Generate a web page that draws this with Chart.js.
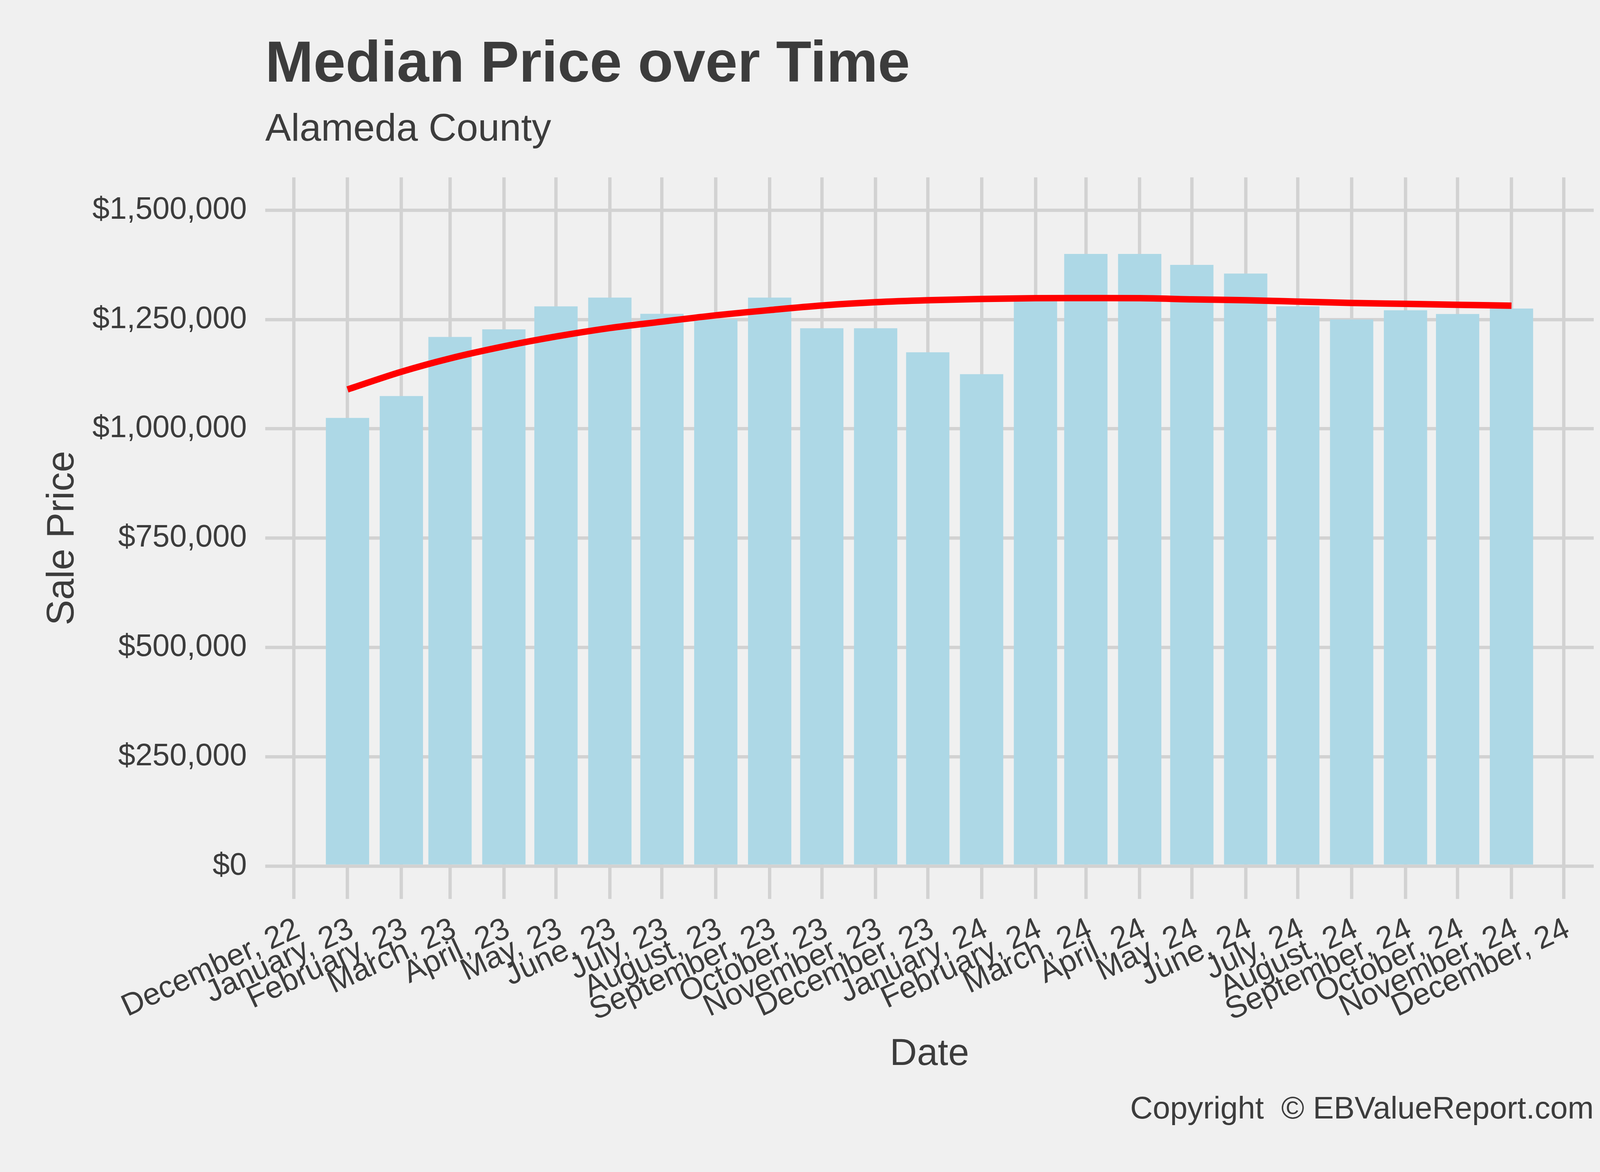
<!DOCTYPE html>
<html>
<head>
<meta charset="utf-8">
<script src="https://cdn.jsdelivr.net/npm/chart.js@4/dist/chart.umd.min.js"></script>
<style>
  html, body { margin: 0; padding: 0; background: #F0F0F0; }
  #wrap { width: 4200px; height: 3000px; }
</style>
</head>
<body>
<div id="wrap"><canvas id="c" width="4200" height="3000"></canvas></div>
<script>
// ---- Data ----
const tickLabels = [
  'December, 22', 'January, 23', 'February, 23', 'March, 23', 'April, 23', 'May, 23',
  'June, 23', 'July, 23', 'August, 23', 'September, 23', 'October, 23', 'November, 23',
  'December, 23', 'January, 24', 'February, 24', 'March, 24', 'April, 24', 'May, 24',
  'June, 24', 'July, 24', 'August, 24', 'September, 24', 'October, 24', 'November, 24',
  'December, 24'
];
const tickDates = [
  '2022-12-01', '2023-01-01', '2023-02-01', '2023-03-01', '2023-04-01', '2023-05-01',
  '2023-06-01', '2023-07-01', '2023-08-01', '2023-09-01', '2023-10-01', '2023-11-01',
  '2023-12-01', '2024-01-01', '2024-02-01', '2024-03-01', '2024-04-01', '2024-05-01',
  '2024-06-01', '2024-07-01', '2024-08-01', '2024-09-01', '2024-10-01', '2024-11-01',
  '2024-12-01'
];
const barDates = [
  '2023-01-01', '2023-02-01', '2023-03-01', '2023-04-01', '2023-05-01', '2023-06-01',
  '2023-07-01', '2023-08-01', '2023-09-01', '2023-10-01', '2023-11-01', '2023-12-01',
  '2024-01-01', '2024-02-01', '2024-03-01', '2024-04-01', '2024-05-01', '2024-06-01',
  '2024-07-01', '2024-08-01', '2024-09-01', '2024-10-01', '2024-11-01'
];
const medianPrice = [
  1025000, 1075000, 1210000, 1227500, 1280000, 1300000,
  1263000, 1250000, 1300000, 1230000, 1230000, 1175000,
  1125000, 1295000, 1400000, 1400000, 1375000, 1355000,
  1280000, 1250000, 1271000, 1262500, 1275000
];
const trendPrice = [
  1090000, 1130500, 1161000, 1188500, 1211000, 1230500,
  1245000, 1259500, 1271500, 1282000, 1289500, 1294000,
  1297000, 1298700, 1299000, 1298700, 1296000, 1294000,
  1291000, 1287700, 1285700, 1283600, 1281500
];
const yTickValues = [0, 250000, 500000, 750000, 1000000, 1250000, 1500000];

const titleText = 'Median Price over Time';
const subtitleText = 'Alameda County';
const xTitleText = 'Date';
const yTitleText = 'Sale Price';
const captionText = 'Copyright  \u00A9 EBValueReport.com';

// ---- Helpers ----
const FONT = "'Liberation Sans', Arial, sans-serif";
const TEXT = '#3C3C3C';
const GRID = '#D2D2D2';
const origin = Date.parse(tickDates[0] + 'T00:00:00Z');
const dayOf = s => (Date.parse(s + 'T00:00:00Z') - origin) / 86400000;

// x range: bar extents (0.9 x 28-day resolution) expanded by 5%
const halfBar = 0.45 * 28;
const lo = dayOf(barDates[0]) - halfBar;
const hi = dayOf(barDates[barDates.length - 1]) + halfBar;
const xMin = lo - 0.05 * (hi - lo);
const xMax = hi + 0.05 * (hi - lo);

Chart.defaults.font.family = FONT;
Chart.defaults.color = TEXT;

const bgPlugin = {
  id: 'bg',
  beforeDraw(chart) {
    const c = chart.ctx;
    c.save();
    c.fillStyle = '#F0F0F0';
    c.fillRect(0, 0, chart.width, chart.height);
    c.restore();
  }
};
const captionPlugin = {
  id: 'caption',
  afterDraw(chart) {
    const c = chart.ctx;
    c.save();
    c.font = '80px ' + FONT;
    c.fillStyle = TEXT;
    c.textAlign = 'right';
    c.textBaseline = 'alphabetic';
    c.fillText(captionText, chart.chartArea.right, chart.height - 137);
    c.restore();
  }
};

new Chart(document.getElementById('c'), {
  type: 'bar',
  data: {
    datasets: [
      {
        type: 'line',
        data: barDates.map((d, i) => ({ x: dayOf(d), y: trendPrice[i] })),
        borderColor: '#FF0000',
        borderWidth: 16.5,
        pointRadius: 0,
        cubicInterpolationMode: 'monotone',
        fill: false,
        order: 0
      },
      {
        type: 'bar',
        data: barDates.map((d, i) => ({ x: dayOf(d), y: medianPrice[i] })),
        backgroundColor: '#ADD8E6',
        borderWidth: 0,
        categoryPercentage: 1,
        barPercentage: 0.89,
        order: 1
      }
    ]
  },
  options: {
    responsive: false,
    devicePixelRatio: 1,
    animation: false,
    layout: { padding: { left: 0, right: 120, top: 0, bottom: 242.7 } },
    plugins: {
      legend: { display: false },
      tooltip: { enabled: false },
      title: {
        display: true, text: titleText, align: 'start', fullSize: false, color: TEXT,
        font: { size: 148, weight: 'bold' }, padding: { top: 78.9, bottom: 0 }
      },
      subtitle: {
        display: true, text: subtitleText, align: 'start', fullSize: false, color: TEXT,
        font: { size: 99, weight: 'normal' }, padding: { top: 16.8, bottom: 61.9 }
      }
    },
    scales: {
      x: {
        type: 'linear',
        min: xMin,
        max: xMax,
        offset: false,
        grid: { color: GRID, lineWidth: 8.5, drawTicks: false, offset: false },
        border: { display: false },
        afterBuildTicks: s => { s.ticks = tickDates.map(d => ({ value: dayOf(d) })); },
        ticks: {
          autoSkip: false, minRotation: 25, maxRotation: 25, padding: 31, labelOffset: 11,
          color: TEXT, font: { size: 79 },
          callback: (v, i) => tickLabels[i]
        },
        title: { display: true, text: xTitleText, color: TEXT, font: { size: 96 }, padding: 0 },
        afterFit: s => { s.height = 456.3; }
      },
      y: {
        type: 'linear',
        min: -75000,
        max: 1575000,
        grid: { color: GRID, lineWidth: 8.5, drawTicks: false },
        border: { display: false },
        afterBuildTicks: s => { s.ticks = yTickValues.map(v => ({ value: v })); },
        ticks: {
          padding: 47, color: TEXT, font: { size: 79 },
          callback: v => '$' + v.toLocaleString('en-US')
        },
        title: { display: true, text: yTitleText, color: TEXT, font: { size: 98 }, padding: { top: 102, bottom: 0 } },
        afterFit: s => { s.width = 679; }
      }
    }
  },
  plugins: [bgPlugin, captionPlugin]
});
</script>
</body>
</html>
